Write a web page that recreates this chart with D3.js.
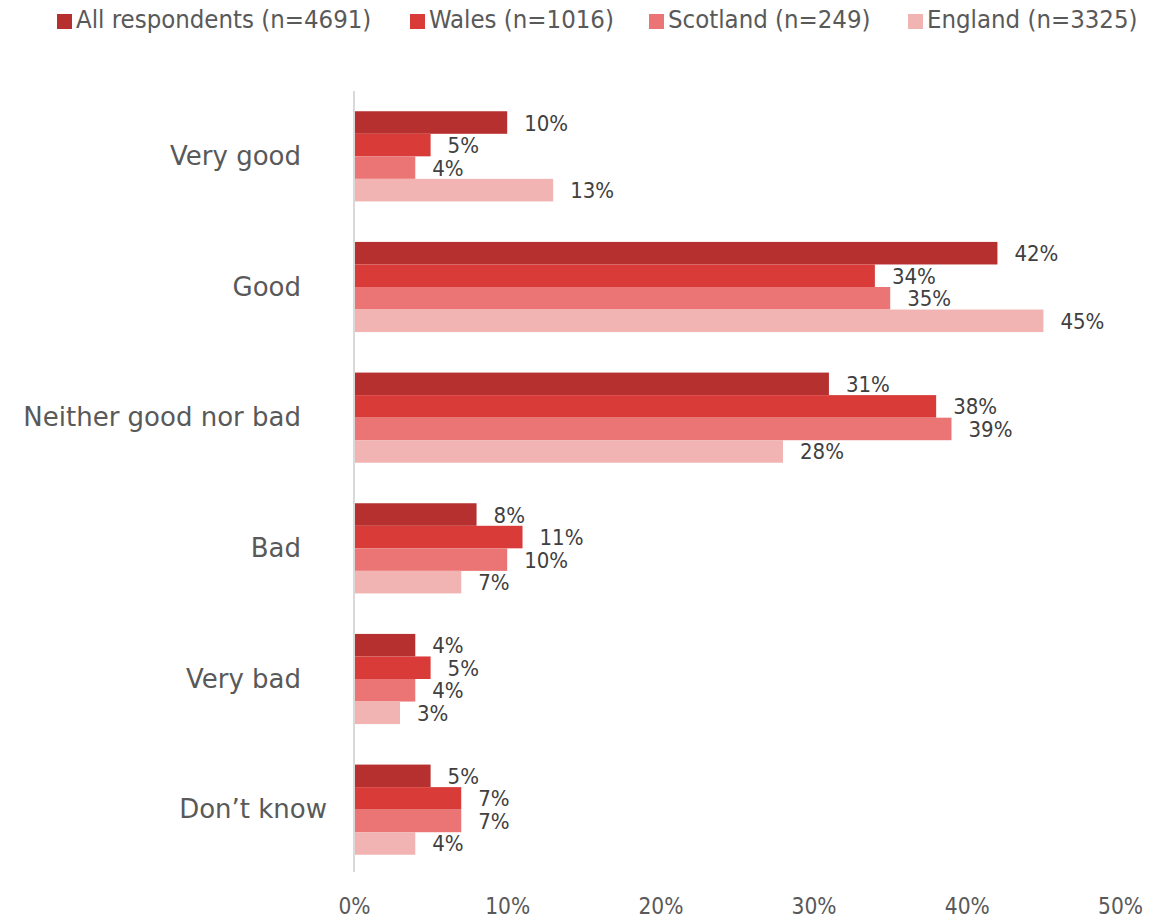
<!DOCTYPE html>
<html><head><meta charset="utf-8">
<script src="https://cdn.jsdelivr.net/npm/d3@7"></script>
<style>body{margin:0;background:#fff;}svg{display:block;font-family:"DejaVu Sans Condensed","DejaVu Sans",sans-serif;}
.num{font-family:"Liberation Sans Narrow","DejaVu Sans Condensed",sans-serif;}
.cat{font-family:"DejaVu Sans",sans-serif;}</style>
</head><body>
<svg id="c" width="1165" height="920"></svg>
<script>
const categories = ["Very good","Good","Neither good nor bad","Bad","Very bad","Don\u2019t know"];
const seriesNames = ["All respondents (n=4691)","Wales (n=1016)","Scotland (n=249)","England (n=3325)"];
const allRespondents = [10,42,31,8,4,5];
const wales = [5,34,38,11,5,7];
const scotland = [4,35,39,10,4,7];
const england = [13,45,28,7,3,4];
const tickLabels = ["0%","10%","20%","30%","40%","50%"];
const tickValues = [0,10,20,30,40,50];
const colors = ["#B5302E","#D93B38","#EB7575","#F2B3B3"];

const series = [allRespondents, wales, scotland, england];
const svg = d3.select("#c");
const x = d3.scaleLinear().domain([0,50]).range([354,1120]);
const y = d3.scaleBand().domain(categories).range([91,875]).paddingInner(0.31).paddingOuter(0.155);
const y1 = d3.scaleBand().domain(d3.range(4)).range([0,y.bandwidth()]);

// axis line
svg.append("line").attr("x1",x(0)).attr("x2",x(0)).attr("y1",91).attr("y2",872)
  .attr("stroke","#D9D9D9").attr("stroke-width",2);

const g = svg.append("g");
categories.forEach((c,ci)=>{
  series.forEach((s,si)=>{
    g.append("rect").attr("x",x(0)+1).attr("y",y(c)+y1(si))
      .attr("width",x(s[ci])-x(0)-1).attr("height",y1.bandwidth())
      .attr("fill",colors[si]);
  });
  series.forEach((s,si)=>{
    g.append("text").attr("class","num").attr("x",x(s[ci])+17).attr("y",y(c)+y1(si)+y1.bandwidth()/2+2)
      .attr("dominant-baseline","middle").attr("font-size",22).attr("fill","#404040")
      .text(s[ci]+"%");
  });
  // the last label sits slightly further right in the original
  const lx = ci === categories.length-1 ? 327 : 301;
  svg.append("text").attr("class","cat").attr("x",lx).attr("y",y(c)+y.bandwidth()/2+1)
    .attr("text-anchor","end").attr("dominant-baseline","middle")
    .attr("font-size",26).attr("fill","#595959").text(c);
});

// x axis tick labels
const xAxis = d3.axisBottom(x).tickValues(tickValues).tickFormat((d,i)=>tickLabels[i]).tickSize(0).tickPadding(0);
const ax = svg.append("g").attr("transform","translate(0,907)").call(xAxis);
ax.select(".domain").remove();
ax.selectAll("text").attr("class","num").attr("font-size",22.5).attr("fill","#595959")
  .attr("font-family",null).attr("dy",null).attr("y",0).attr("dominant-baseline","middle");

// legend
const legX = [57,410,649,908];
seriesNames.forEach((n,i)=>{
  svg.append("rect").attr("x",legX[i]).attr("y",14).attr("width",15).attr("height",15).attr("fill",colors[i]);
  svg.append("text").attr("x",legX[i]+19).attr("y",21).attr("dominant-baseline","middle")
    .attr("font-size",25.5).attr("fill","#595959").text(n);
});
</script>
</body></html>
